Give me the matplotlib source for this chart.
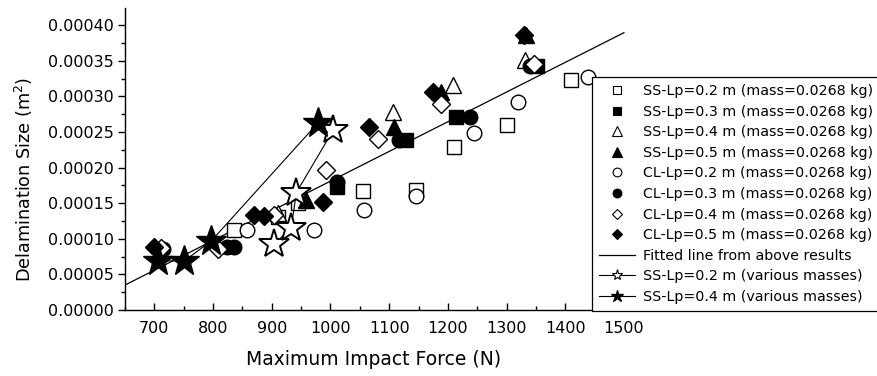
import matplotlib
matplotlib.use("Agg")
import matplotlib.pyplot as plt
from matplotlib.lines import Line2D
from matplotlib.ticker import FixedLocator, FormatStrFormatter, MultipleLocator
import numpy as np

plt.rcParams['font.family'] = ['DejaVu Sans']

# ---- data ----
ss02_x = [836, 911, 945, 1056, 1146, 1211, 1301, 1410]
ss02_y = [1.12e-4, 1.30e-4, 1.50e-4, 1.67e-4, 1.69e-4, 2.29e-4, 2.60e-4, 3.23e-4]
ss03_x = [1011, 1129, 1214, 1352]
ss03_y = [1.73e-4, 2.39e-4, 2.71e-4, 3.42e-4]
ss04_x = [911, 1107, 1209, 1332]
ss04_y = [1.36e-4, 2.78e-4, 3.16e-4, 3.51e-4]
ss05_x = [959, 1109, 1189, 1333]
ss05_y = [1.55e-4, 2.57e-4, 3.06e-4, 3.86e-4]
cl02_x = [857, 972, 1058, 1146, 1245, 1320, 1439]
cl02_y = [1.12e-4, 1.12e-4, 1.40e-4, 1.60e-4, 2.49e-4, 2.92e-4, 3.27e-4]
cl03_x = [715, 823, 835, 1011, 1117, 1237, 1340]
cl03_y = [8.5e-5, 8.8e-5, 8.8e-5, 1.80e-4, 2.39e-4, 2.71e-4, 3.42e-4]
cl04_x = [712, 808, 904, 993, 1081, 1189, 1346]
cl04_y = [8.7e-5, 8.6e-5, 1.33e-4, 1.97e-4, 2.40e-4, 2.90e-4, 3.45e-4]
cl05_x = [700, 870, 886, 988, 1066, 1175, 1329]
cl05_y = [8.8e-5, 1.33e-4, 1.32e-4, 1.52e-4, 2.57e-4, 3.06e-4, 3.86e-4]

fit_slope = 4.17e-7
fit_intercept = -2.36e-4
fit_x = [650, 1500]

star02_x = [903, 933, 942, 1005]
star02_y = [9.2e-5, 1.15e-4, 1.65e-4, 2.53e-4]
star04_x = [707, 751, 797, 979]
star04_y = [6.9e-5, 6.9e-5, 9.7e-5, 2.63e-4]

labels = ["SS-Lp=0.2 m (mass=0.0268 kg)", "SS-Lp=0.3 m (mass=0.0268 kg)",
          "SS-Lp=0.4 m (mass=0.0268 kg)", "SS-Lp=0.5 m (mass=0.0268 kg)",
          "CL-Lp=0.2 m (mass=0.0268 kg)", "CL-Lp=0.3 m (mass=0.0268 kg)",
          "CL-Lp=0.4 m (mass=0.0268 kg)", "CL-Lp=0.5 m (mass=0.0268 kg)",
          "Fitted line from above results",
          "SS-Lp=0.2 m (various masses)", "SS-Lp=0.4 m (various masses)"]
x_ticks = [700, 800, 900, 1000, 1100, 1200, 1300, 1400, 1500]
y_ticks = [0.0, 0.00005, 0.0001, 0.00015, 0.0002, 0.00025, 0.0003, 0.00035, 0.0004]

# ---- figure ----
W, H = 877, 376
fig = plt.figure(figsize=(W / 100, H / 100), dpi=100)
ax = fig.add_axes([125 / W, 1 - 310 / H, (877 - 125) / W, (310 - 8) / H])
ax.set_xlim(650, 650 + (877 - 125) / 0.587)
ax.set_ylim(0, (310 - 8) * 1.4045e-6)

series = [
    (ss02_x, ss02_y, 's', 'white', 9.5),
    (ss03_x, ss03_y, 's', 'black', 9.5),
    (ss04_x, ss04_y, '^', 'white', 11),
    (ss05_x, ss05_y, '^', 'black', 11),
    (cl02_x, cl02_y, 'o', 'white', 10.5),
    (cl03_x, cl03_y, 'o', 'black', 10.5),
    (cl04_x, cl04_y, 'D', 'white', 9),
    (cl05_x, cl05_y, 'D', 'black', 9),
]
handles = []
for (xs, ys, m, fc, ms) in series:
    ax.plot(xs, ys, linestyle='none', marker=m, markersize=ms,
            markerfacecolor=fc, markeredgecolor='black', markeredgewidth=1.0, zorder=3)
    handles.append(Line2D([], [], linestyle='none', marker=m, markersize=ms * 0.6,
                          markerfacecolor=fc, markeredgecolor='black', markeredgewidth=0.8))

fx = np.array(fit_x, dtype=float)
ax.plot(fx, fit_slope * fx + fit_intercept, color='black', lw=0.9, zorder=2)
handles.append(Line2D([], [], color='black', lw=0.9))

ax.plot(star02_x, star02_y, color='black', lw=0.8, marker='*', markersize=22,
        markerfacecolor='white', markeredgecolor='black', markeredgewidth=1.4, zorder=4)
ax.plot(star04_x, star04_y, color='black', lw=0.8, marker='*', markersize=23,
        markerfacecolor='black', markeredgecolor='black', zorder=4)
handles.append(Line2D([], [], color='black', lw=0.8, marker='*', markersize=8,
                      markerfacecolor='white', markeredgecolor='black', markeredgewidth=0.8))
handles.append(Line2D([], [], color='black', lw=0.8, marker='*', markersize=9,
                      markerfacecolor='black', markeredgecolor='black'))

# spines / ticks
for s in ['top', 'right']:
    ax.spines[s].set_visible(False)
for s in ['left', 'bottom']:
    ax.spines[s].set_linewidth(1.0)

ax.xaxis.set_major_locator(FixedLocator(x_ticks))
ax.xaxis.set_minor_locator(FixedLocator([650 + 100 * i for i in range(9)]))
ax.yaxis.set_major_locator(FixedLocator(y_ticks))
ax.yaxis.set_minor_locator(MultipleLocator(0.000025))
ax.yaxis.set_major_formatter(FormatStrFormatter('%.5f'))
ax.tick_params(axis='x', which='major', direction='in', length=5, width=1, labelsize=11.5, pad=8)
ax.tick_params(axis='x', which='minor', direction='in', length=3, width=1)
ax.tick_params(axis='y', which='major', direction='out', length=5, width=1, labelsize=11.5, pad=3)
ax.tick_params(axis='y', which='minor', direction='out', length=3, width=1)

ax.set_xlabel("Maximum Impact Force (N)", fontsize=13.5)
ax.xaxis.set_label_coords((374 - 125) / (877 - 125), -(350 - 310) / (310 - 8))
ax.set_ylabel("Delamination Size (m$^2$)", fontsize=12.7)
ax.yaxis.set_label_coords(-(125 - 35) / (877 - 125), (310 - 179) / (310 - 8))

leg = fig.legend(handles, labels, loc='lower left',
                 bbox_to_anchor=(592 / W, 1 - 311 / H), fontsize=10.3,
                 frameon=True, fancybox=False, edgecolor='black', framealpha=1,
                 handlelength=2.5, handletextpad=0.55, labelspacing=0.46,
                 borderpad=0.5, borderaxespad=0)
leg.get_frame().set_linewidth(0.9)

fig.savefig("out.png", dpi=100)
